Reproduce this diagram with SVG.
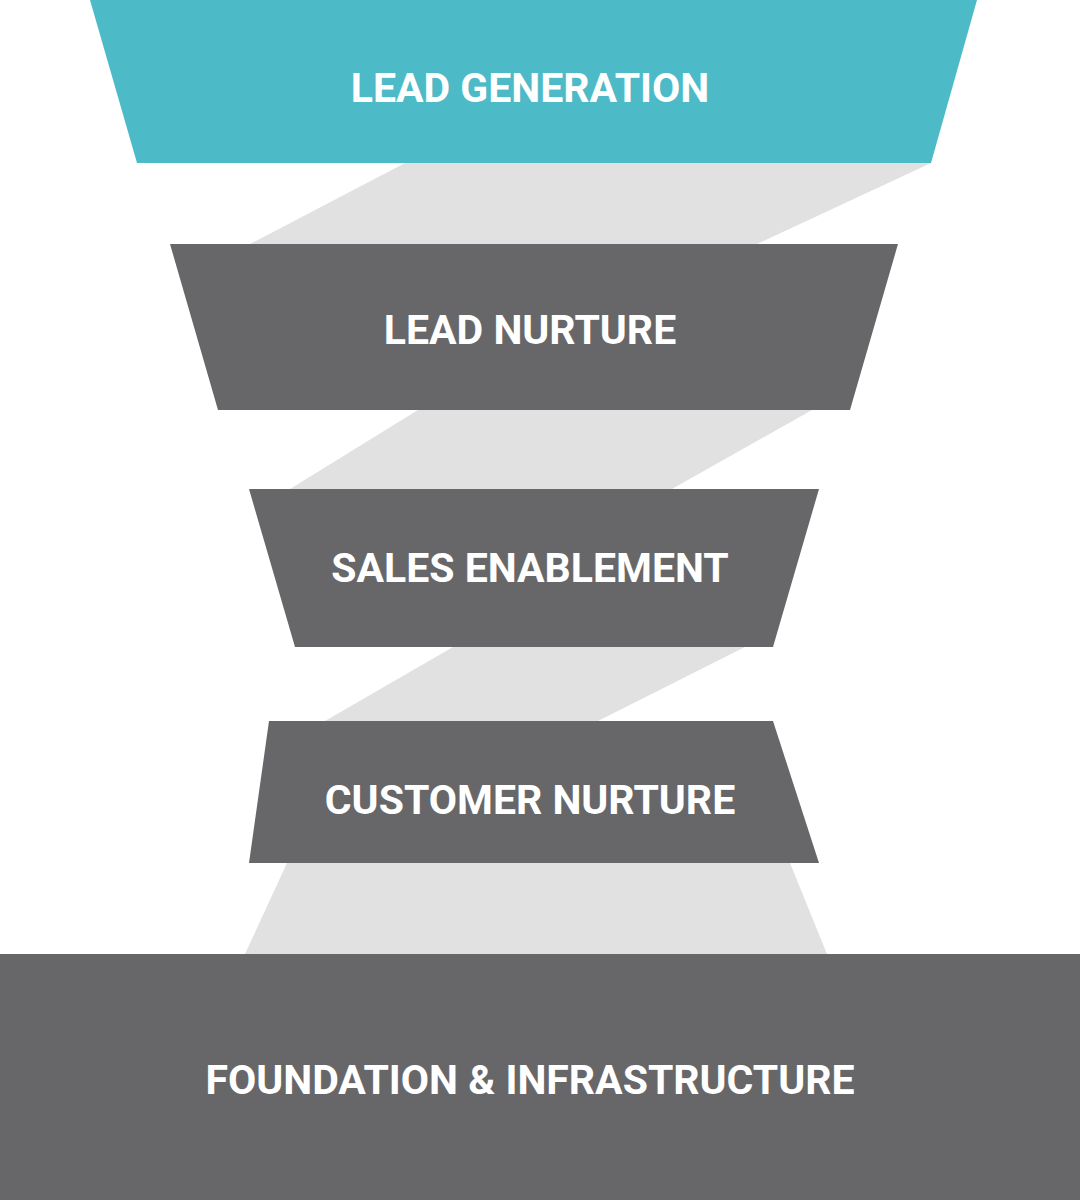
<svg xmlns="http://www.w3.org/2000/svg" width="1080" height="1200" viewBox="0 0 1080 1200">
<style>
.band{fill:#E1E1E2}
.stage{fill:#67676A}
.top{fill:#4DBAC7}
text{font-family:Roboto,"Liberation Sans",sans-serif;font-weight:bold;font-size:41px;fill:#fff;text-anchor:middle}
</style>
<rect width="1080" height="1200" fill="#fff"/>
<g id="connectors">
<polygon class="band" points="405,163 931,163 757,244 250,244"/>
<polygon class="band" points="418,410 812,410 672,489 290,489"/>
<polygon class="band" points="453,647 745,647 598,721 325,721"/>
<polygon class="band" points="287,863 790,863 827,954 245,954"/>
</g>
<g id="lead-generation"><polygon class="top" points="90,0 977,0 931,163 137,163"/><text x="530" y="102">LEAD GENERATION</text></g>
<g id="lead-nurture"><polygon class="stage" points="170,244 898,244 850,410 218,410"/><text x="530" y="344">LEAD NURTURE</text></g>
<g id="sales-enablement"><polygon class="stage" points="249,489 819,489 773,647 295,647"/><text x="530" y="582">SALES ENABLEMENT</text></g>
<g id="customer-nurture"><polygon class="stage" points="269,721 773,721 819,863 249,863"/><text x="530" y="814">CUSTOMER NURTURE</text></g>
<g id="foundation"><rect class="stage" x="0" y="954" width="1080" height="246"/><text x="530" y="1094">FOUNDATION &amp; INFRASTRUCTURE</text></g>
</svg>
